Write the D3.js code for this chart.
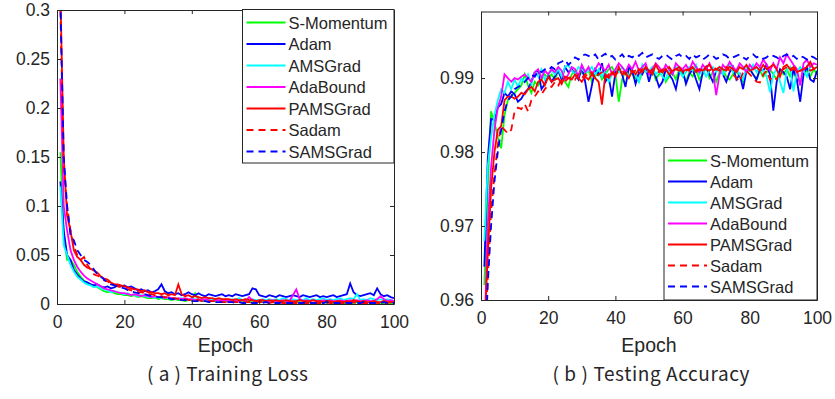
<!DOCTYPE html>
<html>
<head>
<meta charset="UTF-8">
<script src="https://d3js.org/d3.v7.min.js"></script>
<style>
  body { margin: 0; background: #fff; }
  svg text { font-family: "Liberation Sans", Arial, sans-serif; fill: #262626; }
  svg text.caption { font-family: "Noto Sans CJK SC", sans-serif; }
</style>
</head>
<body>
<div id="chart"></div>
<script>
// names and styles of the seven optimisers
const methods = ["S-Momentum", "Adam", "AMSGrad", "AdaBound", "PAMSGrad", "Sadam", "SAMSGrad"];
const colors = ["#00ff00", "#0000ff", "#00ffff", "#ff00ff", "#ff0000", "#ff0000", "#0000ff"];
const dashed = [false, false, false, false, false, true, true];

const epochTicks = [0, 20, 40, 60, 80, 100];
const lossTicks = [0, 0.05, 0.1, 0.15, 0.2, 0.25, 0.3];
const accTicks = [0.96, 0.97, 0.98, 0.99];

// training loss per epoch (1..100)
const lossSMomentum = [.155,.07,.045,.045,.04,.033,.028,.024,.021,.02,
  .019,.017,.015,.013,.012,.013,.011,.010,.010,.009,
  .009,.008,.009,.007,.008,.007,.006,.006,.007,.005,
  .006,.005,.005,.004,.005,.004,.004,.003,.004,.004,
  .011,.004,.003,.003,.004,.003,.003,.004,.003,.003,
  .003,.002,.003,.003,.002,.003,.002,.002,.003,.002,
  .002,.003,.002,.002,.002,.003,.002,.002,.001,.002,
  .002,.002,.001,.002,.002,.001,.002,.002,.001,.002,
  .002,.001,.002,.002,.001,.001,.002,.001,.002,.001,
  .001,.002,.001,.001,.002,.001,.001,.002,.001,.001];
const lossAdam = [.125,.075,.05,.045,.035,.03,.026,.023,.022,.02,
  .019,.02,.018,.017,.018,.016,.017,.019,.018,.019,
  .017,.018,.016,.014,.015,.013,.014,.012,.013,.015,
  .020,.013,.011,.012,.010,.011,.009,.010,.012,.010,
  .009,.011,.009,.008,.010,.009,.008,.009,.010,.008,
  .009,.008,.010,.009,.008,.009,.010,.016,.015,.009,
  .008,.007,.009,.008,.007,.009,.008,.007,.008,.009,
  .008,.007,.009,.008,.007,.008,.009,.007,.008,.007,
  .008,.009,.007,.008,.009,.010,.021,.012,.009,.008,
  .009,.010,.011,.009,.016,.010,.008,.009,.007,.006];
const lossAMSGrad = [.12,.06,.05,.04,.033,.028,.025,.022,.02,.019,
  .017,.018,.016,.015,.014,.012,.013,.012,.011,.010,
  .011,.009,.010,.008,.009,.008,.007,.008,.006,.007,
  .006,.007,.006,.005,.006,.005,.006,.005,.004,.005,
  .005,.004,.005,.004,.006,.005,.004,.005,.004,.005,
  .004,.005,.004,.006,.004,.005,.004,.005,.004,.004,
  .005,.004,.005,.004,.005,.004,.006,.005,.004,.005,
  .004,.005,.004,.006,.004,.005,.004,.005,.006,.004,
  .005,.004,.005,.006,.004,.005,.006,.005,.010,.004,
  .005,.004,.006,.005,.004,.005,.004,.005,.004,.003];
const lossAdaBound = [.23,.10,.075,.055,.045,.038,.033,.029,.026,.024,
  .022,.02,.018,.016,.015,.014,.013,.012,.011,.011,
  .010,.009,.010,.009,.008,.009,.008,.007,.008,.007,
  .007,.006,.007,.006,.005,.006,.005,.006,.005,.005,
  .004,.005,.004,.005,.004,.003,.004,.004,.003,.004,
  .003,.004,.003,.003,.004,.003,.007,.004,.003,.003,
  .004,.003,.003,.004,.003,.003,.004,.003,.003,.009,
  .015,.005,.003,.004,.003,.004,.003,.003,.004,.003,
  .004,.003,.003,.004,.003,.003,.004,.003,.004,.003,
  .003,.004,.003,.003,.005,.008,.005,.003,.004,.003];
const lossPAMSGrad = [.32,.15,.09,.075,.055,.048,.045,.04,.037,.036,
  .034,.032,.028,.026,.025,.022,.02,.02,.019,.018,
  .017,.016,.015,.015,.013,.014,.012,.012,.011,.011,
  .010,.011,.009,.010,.009,.020,.010,.008,.009,.007,
  .008,.007,.006,.007,.006,.006,.005,.006,.005,.005,
  .005,.004,.005,.004,.004,.005,.004,.004,.003,.004,
  .004,.003,.004,.003,.004,.003,.003,.004,.003,.003,
  .003,.004,.003,.003,.003,.004,.003,.003,.002,.003,
  .003,.002,.003,.003,.002,.003,.002,.004,.003,.002,
  .003,.002,.002,.003,.002,.002,.003,.002,.002,.002];
const lossSadam = [.30,.14,.1,.075,.06,.05,.045,.048,.04,.035,
  .03,.029,.027,.024,.023,.021,.02,.018,.017,.016,
  .015,.014,.013,.012,.012,.011,.010,.010,.009,.008,
  .008,.007,.007,.006,.006,.005,.005,.005,.004,.004,
  .004,.004,.003,.003,.003,.003,.003,.003,.002,.002,
  .002,.002,.002,.002,.002,.002,.002,.002,.002,.002,
  .002,.002,.001,.002,.001,.002,.001,.001,.002,.001,
  .001,.002,.001,.001,.001,.002,.001,.001,.001,.002,
  .001,.001,.002,.001,.001,.001,.001,.002,.001,.001,
  .001,.001,.001,.002,.001,.001,.001,.001,.002,.001];
const lossSAMSGrad = [.31,.15,.1,.07,.065,.055,.05,.045,.043,.04,
  .035,.03,.028,.025,.022,.02,.019,.018,.017,.016,
  .014,.013,.012,.011,.010,.010,.009,.008,.008,.007,
  .007,.006,.006,.005,.005,.005,.004,.004,.004,.003,
  .003,.003,.003,.003,.002,.002,.002,.002,.002,.002,
  .002,.002,.001,.002,.001,.001,.002,.001,.001,.001,
  .001,.002,.001,.001,.001,.001,.002,.001,.001,.001,
  .001,.001,.001,.002,.001,.001,.001,.001,.001,.002,
  .001,.001,.001,.001,.002,.001,.001,.001,.001,.001,
  .002,.001,.001,.001,.001,.001,.002,.001,.001,.001];

// testing accuracy per epoch (1..100)
const accSMomentum = [.962,.975,.9855,.984,.982,.9805,.985,.987,.9875,.988,
  .9885,.989,.9905,.989,.988,.9895,.989,.9898,.9905,.990,
  .9905,.9898,.991,.9902,.9895,.9888,.9905,.991,.9902,.9908,
  .9905,.9912,.9895,.9902,.991,.9898,.9905,.9912,.9915,.9905,
  .9868,.9898,.991,.9915,.9905,.99,.9895,.9908,.991,.9905,
  .9912,.9898,.9905,.991,.9895,.9902,.9908,.9898,.9912,.9905,
  .9895,.9908,.9902,.9912,.9898,.9905,.9915,.99,.9908,.9895,
  .9908,.9912,.9902,.9898,.9905,.991,.9902,.9895,.9908,.9912,
  .9905,.9898,.991,.9902,.9908,.9912,.9905,.9898,.991,.9905,
  .9912,.9902,.9908,.9898,.9895,.9905,.991,.9902,.9912,.9905];
const accAdam = [.9645,.979,.9845,.9843,.986,.9865,.988,.9875,.9882,.9878,
  .9868,.9872,.988,.9885,.9895,.9908,.991,.9885,.9892,.9905,
  .9895,.9902,.991,.9898,.9915,.9908,.9912,.9905,.9898,.9915,
  .9895,.9868,.989,.9912,.9905,.992,.9895,.9902,.9875,.9908,
  .9912,.9905,.9888,.9915,.991,.9892,.9908,.9905,.9915,.9895,
  .9912,.9902,.9888,.9895,.9912,.9905,.9898,.9885,.9908,.9912,
  .9892,.9905,.9912,.9898,.9885,.9908,.9915,.9905,.9895,.991,
  .9912,.9905,.9895,.9908,.9915,.9898,.9905,.9885,.991,.9912,
  .9905,.9898,.9912,.991,.9918,.9905,.9856,.9895,.9912,.9908,
  .9902,.9885,.9912,.9898,.9868,.9905,.9915,.9898,.9895,.991];
const accAMSGrad = [.968,.978,.982,.985,.987,.9885,.988,.9895,.9885,.9898,
  .9888,.99,.9895,.9905,.9892,.9908,.9902,.9912,.9898,.9905,
  .991,.9905,.9912,.9902,.9915,.9918,.991,.9905,.9915,.9912,
  .9908,.991,.9915,.9905,.9912,.9902,.991,.9895,.9905,.9912,
  .9908,.9915,.991,.9902,.9912,.9905,.9895,.9918,.9908,.991,
  .9915,.9905,.991,.9902,.9898,.9912,.9905,.9915,.991,.9902,
  .9908,.9915,.991,.9918,.9905,.9912,.9902,.991,.9915,.9908,
  .9915,.9905,.9912,.992,.9908,.9912,.9905,.9898,.9915,.991,
  .9918,.9908,.9915,.991,.9902,.9881,.9905,.9912,.9895,.988,
  .991,.9915,.9882,.9908,.9915,.991,.9902,.9918,.9912,.9915];
const accAdaBound = [.955,.97,.978,.983,.986,.9875,.9905,.99,.9895,.99,
  .9898,.9902,.9905,.99,.9895,.9908,.9912,.99,.991,.9905,
  .9912,.9908,.9915,.991,.9898,.9905,.9915,.9912,.9902,.9918,
  .9908,.9915,.9905,.9912,.992,.9915,.991,.9918,.9905,.9912,
  .992,.9915,.9908,.9918,.9912,.9922,.991,.9915,.992,.9905,
  .9912,.992,.9915,.9908,.9918,.9912,.9905,.992,.9915,.9912,
  .9918,.991,.9922,.9915,.9908,.9918,.9912,.992,.991,.9877,
  .9905,.9918,.9912,.9922,.9915,.991,.992,.9915,.9908,.9918,
  .9912,.992,.9915,.9925,.9918,.991,.992,.9912,.9928,.992,
  .9932,.9925,.9918,.9912,.989,.992,.9925,.9915,.992,.9918];
const accPAMSGrad = [.955,.966,.975,.98,.983,.9835,.987,.9875,.9875,.9872,
  .9875,.988,.9878,.9885,.9888,.9882,.9895,.9898,.989,.9902,
  .9895,.9898,.99,.9892,.9902,.99,.9898,.9905,.99,.9895,
  .9902,.9898,.9905,.99,.9895,.9864,.9905,.99,.9908,.9902,
  .9915,.9905,.9908,.99,.991,.9905,.9912,.9908,.9915,.991,
  .9905,.9918,.991,.9908,.9912,.9905,.991,.9912,.9915,.9908,
  .9912,.991,.9915,.9908,.9912,.991,.9915,.9918,.991,.9912,
  .9915,.9912,.991,.9915,.9912,.9908,.9915,.9912,.9918,.991,
  .9912,.9915,.991,.9918,.9912,.9915,.9918,.9912,.9902,.9915,
  .9918,.9912,.9915,.9908,.991,.9912,.9915,.9922,.9912,.9915];
const accSadam = [.953,.963,.972,.977,.981,.9835,.983,.9825,.983,.9855,
  .986,.9858,.9865,.9855,.987,.9875,.9882,.9878,.9885,.989,
  .9888,.9895,.989,.9898,.9895,.99,.9902,.9898,.9905,.99,
  .9905,.9902,.9908,.99,.9905,.9908,.99,.9905,.991,.9905,
  .9908,.991,.9905,.9912,.9908,.991,.9905,.9912,.991,.9908,
  .9912,.991,.9908,.9912,.991,.9915,.9908,.9912,.991,.9912,
  .991,.9912,.9915,.991,.9912,.9908,.9912,.991,.9915,.9912,
  .991,.9912,.9915,.991,.9905,.99,.9895,.9908,.991,.9905,
  .99,.9895,.9894,.9905,.991,.9898,.9902,.9898,.991,.9912,
  .9915,.991,.9912,.9915,.991,.9912,.9915,.991,.9912,.9915];
const accSAMSGrad = [.95,.962,.97,.976,.98,.983,.9855,.987,.9875,.9885,
  .9888,.989,.9895,.99,.9905,.9902,.991,.9908,.9912,.991,
  .9915,.9912,.992,.9922,.9925,.9918,.9922,.9928,.9925,.993,
  .9932,.993,.9928,.9932,.9925,.993,.9933,.9928,.993,.9925,
  .9928,.9932,.9926,.993,.9928,.9932,.993,.9934,.9928,.993,
  .9932,.9928,.9926,.993,.9932,.9928,.9925,.993,.9932,.9928,
  .993,.9926,.9932,.9928,.993,.9925,.9928,.9932,.993,.9926,
  .9928,.9932,.993,.9926,.9928,.993,.9932,.9928,.9925,.993,
  .9932,.9928,.993,.9926,.9928,.9932,.993,.9928,.9925,.993,
  .9932,.9928,.993,.9926,.993,.9928,.9925,.993,.9928,.9925];

const lossSeries = [lossSMomentum, lossAdam, lossAMSGrad, lossAdaBound, lossPAMSGrad, lossSadam, lossSAMSGrad];
const accSeries = [accSMomentum, accAdam, accAMSGrad, accAdaBound, accPAMSGrad, accSadam, accSAMSGrad];

const width = 835, height = 399;
const svg = d3.select("#chart").append("svg")
  .attr("width", width).attr("height", height);

const mainFont = "'Liberation Sans', Arial, sans-serif";

function drawPanel(opt) {
  const x = d3.scaleLinear().domain([0, 100]).range([opt.left, opt.right]);
  const y = d3.scaleLinear().domain(opt.yDomain).range([opt.bottom, opt.top]);
  const g = svg.append("g");

  g.append("clipPath").attr("id", opt.id)
    .append("rect")
    .attr("x", opt.left).attr("y", opt.top)
    .attr("width", opt.right - opt.left).attr("height", opt.bottom - opt.top);

  const line = d3.line()
    .x((d, i) => x(i + 1))
    .y(d => y(d));

  g.append("g").attr("clip-path", `url(#${opt.id})`)
    .selectAll("path")
    .data(opt.series)
    .join("path")
    .attr("d", d => line(d))
    .attr("fill", "none")
    .attr("stroke", (d, i) => colors[i])
    .attr("stroke-width", 1.8)
    .attr("stroke-dasharray", (d, i) => dashed[i] ? "7,5" : null);

  // box axes with inward ticks, MATLAB style
  const axes = [
    [d3.axisBottom(x).tickValues(epochTicks), `translate(0,${opt.bottom})`, true],
    [d3.axisTop(x).tickValues(epochTicks), `translate(0,${opt.top})`, false],
    [d3.axisLeft(y).tickValues(opt.yTicks).tickFormat(d3.format("")), `translate(${opt.left},0)`, true],
    [d3.axisRight(y).tickValues(opt.yTicks), `translate(${opt.right},0)`, false]
  ];
  axes.forEach(([ax, tr, labels], k) => {
    ax.tickSizeInner(-4).tickSizeOuter(0).tickPadding(k < 2 ? 12 : 7);
    if (!labels) ax.tickFormat("");
    const a = g.append("g").attr("transform", tr).call(ax)
      .attr("font-family", mainFont);
    a.select(".domain").attr("stroke", "#262626");
    a.selectAll(".tick line").attr("stroke", "#262626");
    a.selectAll("text").attr("font-size", 17.5).attr("fill", "#262626");
  });

  const cx = (opt.left + opt.right) / 2;
  g.append("text").attr("x", cx).attr("y", 352)
    .attr("text-anchor", "middle").attr("font-size", 19.5).text("Epoch");
  g.append("text").attr("class", "caption").attr("x", cx + 2).attr("y", 381)
    .attr("text-anchor", "middle").attr("font-size", 19)
    .attr("textLength", opt.captionWidth).text(opt.caption);

  // legend
  const lg = g.append("g");
  lg.append("rect")
    .attr("x", opt.legend.x).attr("y", opt.legend.y)
    .attr("width", opt.legend.w).attr("height", opt.legend.h)
    .attr("fill", "#fff").attr("stroke", "#262626").attr("stroke-width", 1);
  methods.forEach((m, i) => {
    const ry = opt.legend.y + 13 + i * opt.legend.step;
    lg.append("line")
      .attr("x1", opt.legend.x + 4).attr("x2", opt.legend.x + 43)
      .attr("y1", ry).attr("y2", ry)
      .attr("stroke", colors[i]).attr("stroke-width", 1.8)
      .attr("stroke-dasharray", dashed[i] ? "7,5" : null);
    lg.append("text")
      .attr("x", opt.legend.x + 46).attr("y", ry + 6)
      .attr("font-size", 16.5).text(m);
  });
}

drawPanel({
  id: "clipA", left: 57, right: 394, top: 10, bottom: 304,
  yDomain: [0, 0.3], yTicks: lossTicks, series: lossSeries,
  caption: "( a ) Training Loss", captionWidth: 161,
  legend: { x: 242.5, y: 9.5, w: 151.5, h: 153.5, step: 21.5 }
});

drawPanel({
  id: "clipB", left: 481, right: 817, top: 11.5, bottom: 300,
  yDomain: [0.96, 0.999], yTicks: accTicks, series: accSeries,
  caption: "( b ) Testing Accuracy", captionWidth: 197,
  legend: { x: 664, y: 147.5, w: 153, h: 152.5, step: 21 }
});
</script>
</body>
</html>
